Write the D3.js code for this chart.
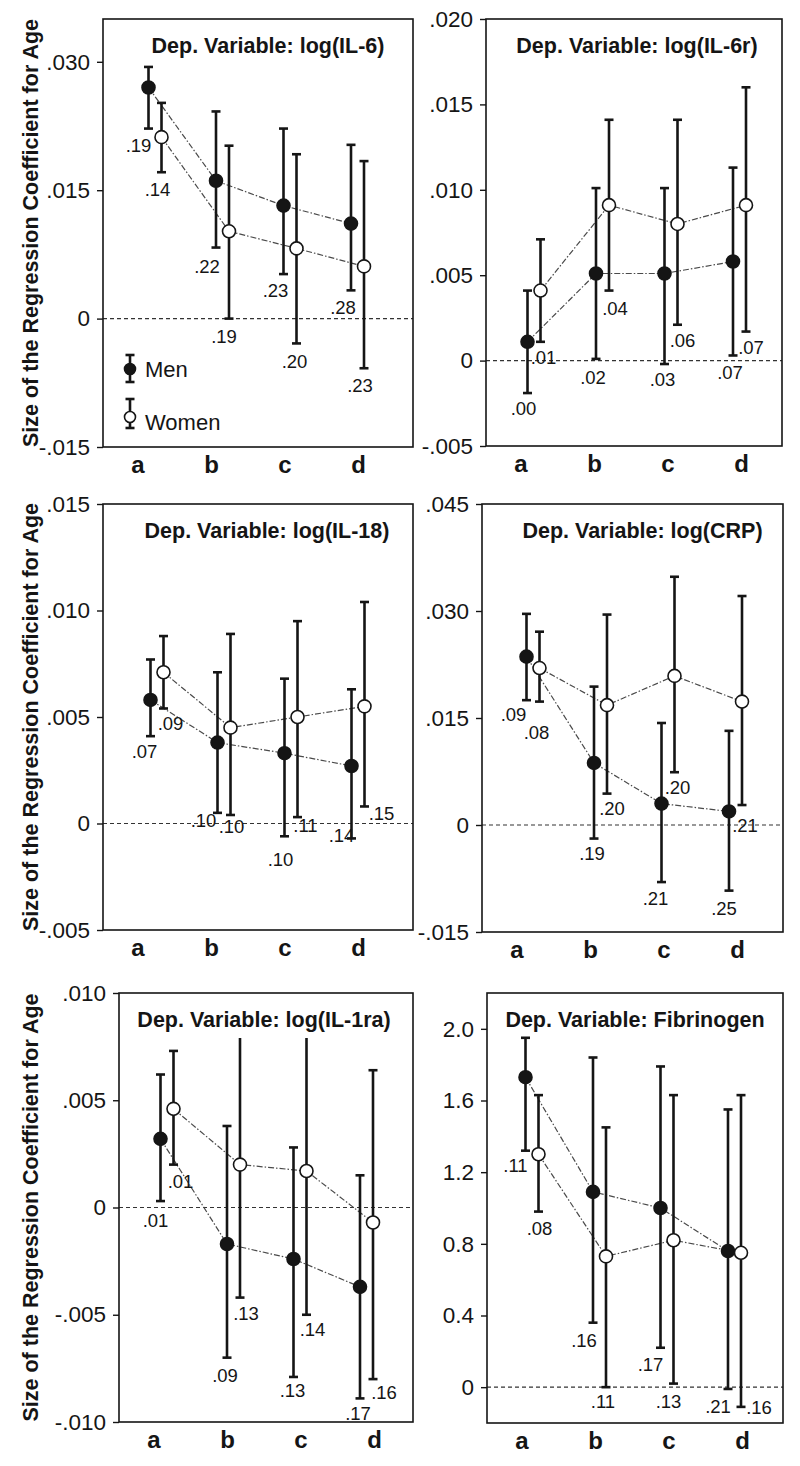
<!DOCTYPE html>
<html>
<head>
<meta charset="utf-8">
<script src="https://cdn.jsdelivr.net/npm/d3@7/dist/d3.min.js"></script>
<style>
  body { margin: 0; background: #fff; }
  text { font-family: "Liberation Sans", Arial, Helvetica, sans-serif; fill: #151515; }
</style>
</head>
<body>
<svg id="fig" width="800" height="1466"></svg>
<script>
// ---- data ----
const groups = ["a", "b", "c", "d"];

const titles = [
  "Dep. Variable: log(IL-6)",
  "Dep. Variable: log(IL-6r)",
  "Dep. Variable: log(IL-18)",
  "Dep. Variable: log(CRP)",
  "Dep. Variable: log(IL-1ra)",
  "Dep. Variable: Fibrinogen"
];

const yDomains = [
  [-0.015, 0.035],
  [-0.005, 0.020],
  [-0.005, 0.015],
  [-0.015, 0.045],
  [-0.010, 0.010],
  [-0.2, 2.2]
];

const yTicks = [
  [-0.015, 0, 0.015, 0.030],
  [-0.005, 0, 0.005, 0.010, 0.015, 0.020],
  [-0.005, 0, 0.005, 0.010, 0.015],
  [-0.015, 0, 0.015, 0.030, 0.045],
  [-0.010, -0.005, 0, 0.005, 0.010],
  [0, 0.4, 0.8, 1.2, 1.6, 2.0]
];

const yTickLabels = [
  ["-.015", "0", ".015", ".030"],
  ["-.005", "0", ".005", ".010", ".015", ".020"],
  ["-.005", "0", ".005", ".010", ".015"],
  ["-.015", "0", ".015", ".030", ".045"],
  ["-.010", "-.005", "0", ".005", ".010"],
  ["0", "0.4", "0.8", "1.2", "1.6", "2.0"]
];

const menEst = [
  [0.0270, 0.0161, 0.0132, 0.0111],
  [0.0011, 0.0051, 0.0051, 0.0058],
  [0.0058, 0.0038, 0.0033, 0.0027],
  [0.0236, 0.0087, 0.0030, 0.0019],
  [0.0032, -0.0017, -0.0024, -0.0037],
  [1.73, 1.09, 1.00, 0.76]
];
const menLo = [
  [0.0222, 0.0083, 0.0052, 0.0033],
  [-0.0019, 0.0001, -0.0002, 0.0003],
  [0.0041, 0.0005, -0.0006, -0.0007],
  [0.0175, -0.0019, -0.0080, -0.0092],
  [0.0003, -0.0070, -0.0079, -0.0089],
  [1.32, 0.36, 0.22, -0.01]
];
const menHi = [
  [0.0294, 0.0242, 0.0222, 0.0203],
  [0.0041, 0.0101, 0.0101, 0.0113],
  [0.0077, 0.0071, 0.0068, 0.0063],
  [0.0296, 0.0194, 0.0143, 0.0132],
  [0.0062, 0.0038, 0.0028, 0.0015],
  [1.95, 1.84, 1.79, 1.55]
];

const womenEst = [
  [0.0212, 0.0102, 0.0082, 0.0061],
  [0.0041, 0.0091, 0.0080, 0.0091],
  [0.0071, 0.0045, 0.0050, 0.0055],
  [0.0220, 0.0168, 0.0209, 0.0173],
  [0.0046, 0.0020, 0.0017, -0.0007],
  [1.30, 0.73, 0.82, 0.75]
];
const womenLo = [
  [0.0171, 0.0000, -0.0029, -0.0058],
  [0.0011, 0.0041, 0.0021, 0.0017],
  [0.0054, 0.0004, 0.0003, 0.0008],
  [0.0173, 0.0044, 0.0074, 0.0028],
  [0.0020, -0.0042, -0.0050, -0.0080],
  [0.98, 0.00, 0.02, -0.11]
];
const womenHi = [
  [0.0252, 0.0202, 0.0192, 0.0184],
  [0.0071, 0.0141, 0.0141, 0.0160],
  [0.0088, 0.0089, 0.0095, 0.0104],
  [0.0271, 0.0295, 0.0348, 0.0321],
  [0.0073, 0.0079, 0.0079, 0.0064],
  [1.63, 1.45, 1.63, 1.63]
];

// small numbers printed under each bar
const menNote = [
  [".19", ".22", ".23", ".28"],
  [".00", ".02", ".03", ".07"],
  [".07", ".10", ".10", ".14"],
  [".09", ".19", ".21", ".25"],
  [".01", ".09", ".13", ".17"],
  [".11", ".16", ".17", ".21"]
];
const womenNote = [
  [".14", ".19", ".20", ".23"],
  [".01", ".04", ".06", ".07"],
  [".09", ".10", ".11", ".15"],
  [".08", ".20", ".20", ".21"],
  [".01", ".13", ".14", ".16"],
  [".08", ".11", ".13", ".16"]
];

// ---- layout ----
const frames = [
  { x0: 103, x1: 413, y0: 19,  y1: 447,  pad: 52, step: 67.5, tdx: 10 },
  { x0: 486, x1: 782, y0: 19,  y1: 446,  pad: 48, step: 68.5, tdx: 3 },
  { x0: 103, x1: 413, y0: 504, y1: 930,  pad: 54, step: 67,   tdx: 9 },
  { x0: 482, x1: 783, y0: 504, y1: 932,  pad: 51, step: 67.5, tdx: 10 },
  { x0: 119, x1: 413, y0: 993, y1: 1422, pad: 48, step: 66.5, tdx: -2 },
  { x0: 487, x1: 783, y0: 993, y1: 1423, pad: 45, step: 67.5, tdx: 0 }
];
// nudges [dx, dy] of each note from the lower end of its bar
const menNoteOff = [
  [[-10, 23], [-9, 25], [-8, 23], [-8, 24]],
  [[-4, 22], [-3, 25], [-2, 22], [-3, 24]],
  [[-6, 22], [-14, 14], [-4, 30], [-10, 4]],
  [[-13, 21], [-2, 21], [-6, 23], [-5, 24]],
  [[-5, 26], [-2, 24], [-1, 20], [-2, 22]],
  [[-10, 21], [-9, 24], [-10, 23], [-10, 24]]
];
const womenNoteOff = [
  [[-4, 24], [-5, 24], [-2, 25], [-4, 24]],
  [[3, 22], [6, 24], [5, 22], [5, 22]],
  [[7, 22], [1, 18], [8, 15], [17, 14]],
  [[-3, 37], [5, 21], [3, 22], [3, 27]],
  [[7, 23], [6, 22], [6, 21], [11, 20]],
  [[1, 23], [-3, 21], [-5, 24], [18, 7]]
];
// bars drawn without a top cap (panel index -> series -> group indexes)
const noTopCap = { 4: { women: [1, 2] } };

const sexOff = 6.5;
const capW = 4.5;
const ptR = 6.5;
const ink = "#151515";

const svg = d3.select("#fig");

function drawPanel(p) {
  const f = frames[p];
  const g = svg.append("g").attr("class", "panel");

  const y = d3.scaleLinear().domain(yDomains[p]).range([f.y1, f.y0]);
  const xData = d3.scalePoint().domain(groups)
    .range([f.x0 + f.pad, f.x0 + f.pad + f.step * 3]);
  const xLab = d3.scalePoint().domain(groups)
    .range([f.x0 + 35, f.x0 + 35 + 73.5 * 3]);

  // zero reference line
  g.append("line")
    .attr("x1", f.x0).attr("x2", f.x1)
    .attr("y1", y(0)).attr("y2", y(0))
    .attr("stroke", "#333").attr("stroke-width", 1.1)
    .attr("stroke-dasharray", "4,3");

  // y axis
  const yAxis = d3.axisLeft(y)
    .tickValues(yTicks[p])
    .tickSize(6)
    .tickPadding(7)
    .tickFormat((d, i) => yTickLabels[p][i]);
  const ax = g.append("g")
    .attr("transform", "translate(" + f.x0 + ",0)")
    .call(yAxis);
  ax.select(".domain").remove();
  ax.selectAll(".tick line").attr("stroke", ink).attr("stroke-width", 1.4);
  ax.selectAll(".tick text")
    .attr("fill", ink)
    .style("font-size", "22.5px");

  // x category labels
  g.selectAll("text.cat")
    .data(groups)
    .enter()
      .append("text")
        .attr("class", "cat")
        .attr("x", d => xLab(d))
        .attr("y", f.y1 + 26)
        .attr("text-anchor", "middle")
        .style("font-size", "24px")
        .style("font-weight", "bold")
        .text(d => d);

  // panel frame
  g.append("rect")
    .attr("x", f.x0).attr("y", f.y0)
    .attr("width", f.x1 - f.x0).attr("height", f.y1 - f.y0)
    .attr("fill", "none")
    .attr("stroke", ink).attr("stroke-width", 1.6);

  // title
  g.append("text")
    .attr("x", (f.x0 + f.x1) / 2 + f.tdx)
    .attr("y", f.y0 + 34)
    .attr("text-anchor", "middle")
    .style("font-size", "21.5px")
    .style("font-weight", "bold")
    .text(titles[p]);

  const series = [
    { key: "men",   est: menEst[p],   lo: menLo[p],   hi: menHi[p],   note: menNote[p],   off: menNoteOff[p],   dx: -sexOff, fill: ink },
    { key: "women", est: womenEst[p], lo: womenLo[p], hi: womenHi[p], note: womenNote[p], off: womenNoteOff[p], dx: sexOff,  fill: "#fff" }
  ];

  // connecting lines
  series.forEach(s => {
    const line = d3.line()
      .x((d, i) => xData(groups[i]) + s.dx)
      .y(d => y(d));
    g.append("path")
      .datum(s.est)
      .attr("d", line)
      .attr("fill", "none")
      .attr("stroke", "#4a4a4a")
      .attr("stroke-width", 1.2)
      .attr("stroke-dasharray", "6,2,1.5,2");
  });

  // error bars, points and notes
  series.forEach(s => {
    const rows = groups.map((k, i) => ({
      k: k, i: i, est: s.est[i], lo: s.lo[i], hi: s.hi[i], note: s.note[i], off: s.off[i]
    }));
    const skip = (noTopCap[p] && noTopCap[p][s.key]) || [];
    const bars = g.append("g").attr("class", "bars-" + s.key)
      .attr("stroke", ink).attr("stroke-width", 2.6);

    bars.selectAll("line.stem")
      .data(rows).enter()
        .append("line")
          .attr("class", "stem")
          .attr("x1", d => xData(d.k) + s.dx).attr("x2", d => xData(d.k) + s.dx)
          .attr("y1", d => y(d.lo)).attr("y2", d => y(d.hi));

    bars.selectAll("line.capLo")
      .data(rows).enter()
        .append("line")
          .attr("class", "capLo")
          .attr("x1", d => xData(d.k) + s.dx - capW).attr("x2", d => xData(d.k) + s.dx + capW)
          .attr("y1", d => y(d.lo)).attr("y2", d => y(d.lo));

    bars.selectAll("line.capHi")
      .data(rows.filter(d => skip.indexOf(d.i) < 0)).enter()
        .append("line")
          .attr("class", "capHi")
          .attr("x1", d => xData(d.k) + s.dx - capW).attr("x2", d => xData(d.k) + s.dx + capW)
          .attr("y1", d => y(d.hi)).attr("y2", d => y(d.hi));

    g.selectAll("text.note-" + s.key)
      .data(rows).enter()
        .append("text")
          .attr("class", "note-" + s.key)
          .attr("x", d => xData(d.k) + s.dx + d.off[0])
          .attr("y", d => y(d.lo) + d.off[1])
          .attr("text-anchor", "middle")
          .style("font-size", "18.5px")
          .text(d => d.note);

    s.rows = rows;
  });

  series.forEach(s => {
    g.selectAll("circle.pt-" + s.key)
      .data(s.rows).enter()
        .append("circle")
          .attr("class", "pt-" + s.key)
          .attr("cx", d => xData(d.k) + s.dx)
          .attr("cy", d => y(d.est))
          .attr("r", ptR)
          .attr("fill", s.fill)
          .attr("stroke", ink)
          .attr("stroke-width", 1.6);
  });

  // y axis title on the left column
  if (p % 2 === 0) {
    g.append("text")
      .attr("transform", "translate(38," + ((f.y0 + f.y1) / 2) + ") rotate(-90)")
      .attr("text-anchor", "middle")
      .style("font-size", "21.5px")
      .style("font-weight", "bold")
      .text("Size of the Regression Coefficient for Age");
  }

  // legend (first panel only)
  if (p === 0) {
    const lg = g.append("g").attr("class", "legend");
    const items = [
      { label: "Men",   fill: ink,    cy: f.y0 + 350, top: f.y0 + 336, bot: f.y0 + 363, ty: f.y0 + 358 },
      { label: "Women", fill: "#fff", cy: f.y0 + 398, top: f.y0 + 380, bot: f.y0 + 409, ty: f.y0 + 411 }
    ];
    const lx = f.x0 + 27;
    items.forEach(it => {
      lg.append("line").attr("x1", lx).attr("x2", lx).attr("y1", it.top).attr("y2", it.bot)
        .attr("stroke", ink).attr("stroke-width", 2.6);
      [it.top, it.bot].forEach(yy => {
        lg.append("line").attr("x1", lx - capW).attr("x2", lx + capW).attr("y1", yy).attr("y2", yy)
          .attr("stroke", ink).attr("stroke-width", 2.6);
      });
      lg.append("circle").attr("cx", lx).attr("cy", it.cy).attr("r", 5.5)
        .attr("fill", it.fill).attr("stroke", ink).attr("stroke-width", 1.6);
      lg.append("text").attr("x", lx + 15).attr("y", it.ty)
        .style("font-size", "22px").text(it.label);
    });
  }
}

d3.range(titles.length).forEach(drawPanel);
</script>
</body>
</html>
